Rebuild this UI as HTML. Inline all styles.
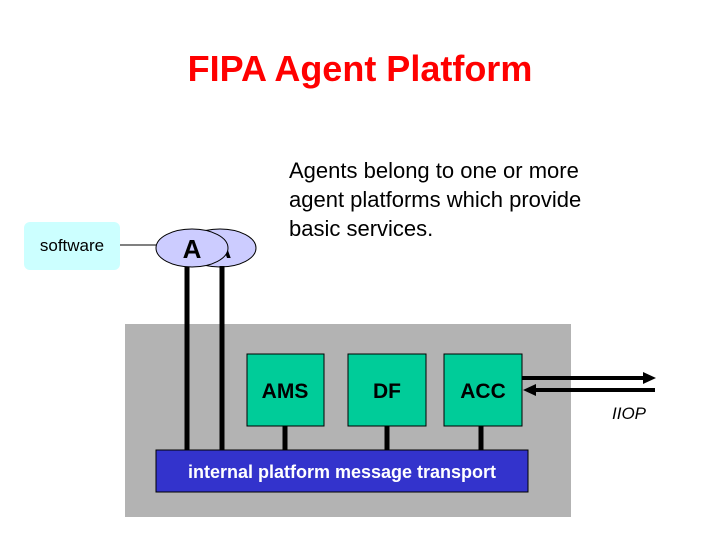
<!DOCTYPE html>
<html><head><style>
body{margin:0;width:720px;height:540px;background:#fff;font-family:"Liberation Sans",sans-serif;position:relative;overflow:hidden}
.a{position:absolute}
</style></head><body>
<div class="a" style="left:0;top:48px;width:720px;text-align:center;color:#f00;font-weight:bold;font-size:36px">FIPA Agent Platform</div>
<div class="a" style="left:289px;top:156px;font-size:22px;line-height:29px;color:#000">Agents belong to one or more<br>agent platforms which provide<br>basic services.</div>
<div class="a" style="left:125px;top:324px;width:446px;height:193px;background:#b3b3b3"></div>
<div class="a" style="left:24px;top:222px;width:96px;height:48px;background:#ccffff;border-radius:6px;font-size:17px;line-height:48px;text-align:center">software</div>
<svg class="a" style="left:0;top:0" width="720" height="540">
<line x1="120" y1="245" x2="160" y2="245" stroke="#000" stroke-width="1"/>
<ellipse cx="220" cy="248" rx="36" ry="19" fill="#ccccff" stroke="#000"/>
<text x="222" y="258" font-family="Liberation Sans" font-size="26" font-weight="bold" text-anchor="middle">A</text>
<ellipse cx="192" cy="248" rx="36" ry="19" fill="#ccccff" stroke="#000"/>
<text x="192" y="258" font-family="Liberation Sans" font-size="26" font-weight="bold" text-anchor="middle">A</text>
<line x1="187" y1="267" x2="187" y2="452" stroke="#000" stroke-width="5"/>
<line x1="222" y1="266" x2="222" y2="452" stroke="#000" stroke-width="5"/>
<line x1="285" y1="426" x2="285" y2="452" stroke="#000" stroke-width="5"/>
<line x1="387" y1="426" x2="387" y2="452" stroke="#000" stroke-width="5"/>
<line x1="481" y1="426" x2="481" y2="452" stroke="#000" stroke-width="5"/>
<rect x="247" y="354" width="77" height="72" fill="#00cc99" stroke="#000"/>
<rect x="348" y="354" width="78" height="72" fill="#00cc99" stroke="#000"/>
<rect x="444" y="354" width="78" height="72" fill="#00cc99" stroke="#000"/>
<text x="285" y="398" font-family="Liberation Sans" font-size="21" font-weight="bold" text-anchor="middle">AMS</text>
<text x="387" y="398" font-family="Liberation Sans" font-size="21" font-weight="bold" text-anchor="middle">DF</text>
<text x="483" y="398" font-family="Liberation Sans" font-size="21" font-weight="bold" text-anchor="middle">ACC</text>
<rect x="156" y="450" width="372" height="42" fill="#3333cc" stroke="#000"/>
<text x="342" y="478" font-family="Liberation Sans" font-size="18" font-weight="bold" fill="#fff" text-anchor="middle">internal platform message transport</text>
<line x1="522" y1="378" x2="645" y2="378" stroke="#000" stroke-width="4"/>
<polygon points="656,378 643,372 643,384" fill="#000"/>
<line x1="534" y1="390" x2="655" y2="390" stroke="#000" stroke-width="4"/>
<polygon points="523,390 536,384 536,396" fill="#000"/>
<text x="612" y="419" font-family="Liberation Sans" font-size="17" font-style="italic">IIOP</text>
</svg>
</body></html>
